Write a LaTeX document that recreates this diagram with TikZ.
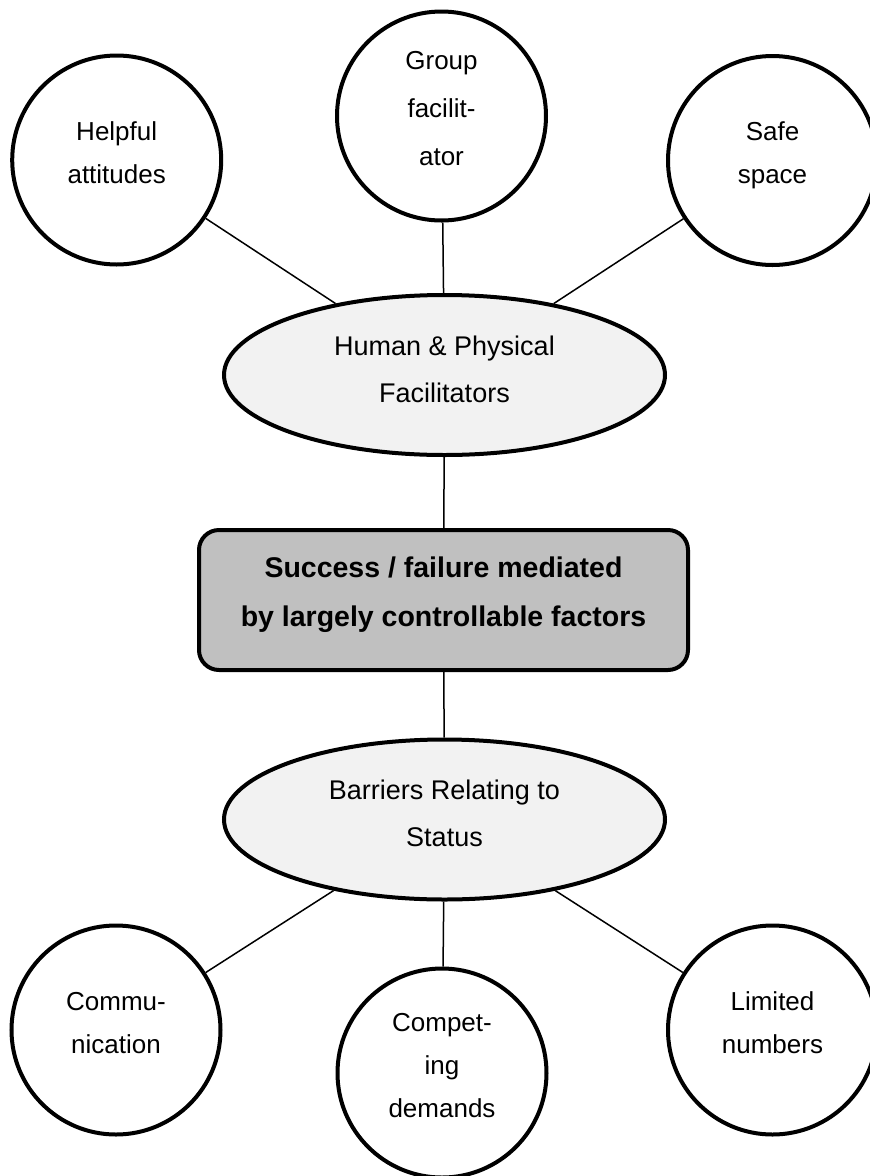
\documentclass[tikz,border=0pt]{standalone}
\usepackage{fontspec}
\setmainfont{Liberation Sans}
\usetikzlibrary{shapes.geometric}
\definecolor{hubfill}{RGB}{242,242,242}
\definecolor{corefill}{RGB}{192,192,192}
\begin{document}
\begin{tikzpicture}[x=1pt,y=-1pt,
						factor/.style={circle,draw,line width=4pt,minimum size=209pt,inner sep=0pt,align=center,
							font=\fontsize{26}{43}\selectfont,execute at end node={\rule[-15pt]{0pt}{15pt}}},
						hub/.style={ellipse,draw,line width=4pt,fill=hubfill,minimum width=441pt,minimum height=160pt,
							inner sep=0pt,align=center,font=\fontsize{27}{47}\selectfont,execute at end node={\rule[-12pt]{0pt}{12pt}}},
						core/.style={rectangle,rounded corners=20pt,draw,line width=4pt,fill=corefill,minimum width=489pt,
							minimum height=140pt,align=center,font=\bfseries\fontsize{28.5}{49}\selectfont,
							execute at end node={\rule[-17pt]{0pt}{17pt}}},
						link/.style={line width=1.5pt}]
		\useasboundingbox (0,0) rectangle (870,1176);
		\node[core] (core) at (443.5,600) {Success / failure mediated\\by largely controllable factors};
		\node[hub] (human) at (444.5,375) {Human \& Physical\\Facilitators};
		\node[hub] (barriers) at (444.5,819.5) {Barriers Relating to\\Status};
		\node[factor] (helpful) at (116.7,160) {Helpful\\attitudes};
		\node[factor,font=\fontsize{26}{48}\selectfont,execute at end node={}] (group) at (441.5,116) {Group\\facilit-\\ator};
		\node[factor] (safe) at (772.5,160.5) {Safe\\space};
		\node[factor] (comm) at (116,1030) {Commu-\\nication};
		\node[factor] (compet) at (442,1073) {Compet-\\ing\\demands};
		\node[factor] (limited) at (772.5,1030) {Limited\\numbers};
		\draw[link] (helpful) -- (human);
		\draw[link] (group) -- (human);
		\draw[link] (safe) -- (human);
		\draw[link] (human) -- (core);
		\draw[link] (core) -- (barriers);
		\draw[link] (barriers) -- (comm);
		\draw[link] (barriers) -- (compet);
		\draw[link] (barriers) -- (limited);
	\end{tikzpicture}
\end{document}
